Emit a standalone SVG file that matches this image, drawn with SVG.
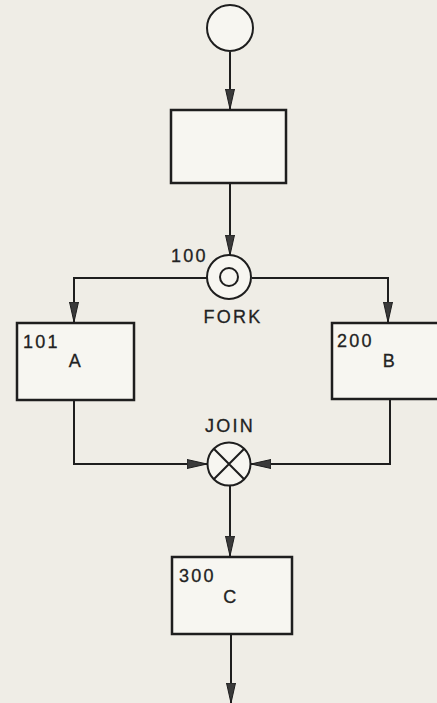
<svg xmlns="http://www.w3.org/2000/svg" width="437" height="703" viewBox="0 0 437 703">
<style>
.bg{fill:#efede6}
.ln{fill:none;stroke:#1e1e1e;stroke-width:2}
.bx{fill:#f7f6f1;stroke:#1e1e1e;stroke-width:2.5}
.t{font-family:"Liberation Sans","DejaVu Sans",sans-serif;font-size:18px;letter-spacing:2.3px;fill:#222;stroke:#222;stroke-width:0.3}
</style>
<defs>
<marker id="ah" markerWidth="22" markerHeight="12" refX="20" refY="6" orient="auto" markerUnits="userSpaceOnUse">
<path d="M0,1.5 L20,6 L0,10.5 Z" fill="#3a3a3a" stroke="#1e1e1e" stroke-width="1"/>
</marker>
</defs>
<rect class="bg" x="0" y="0" width="437" height="703"/>
<g id="connectors">
<path class="ln" d="M230,52 V109" marker-end="url(#ah)"/>
<path class="ln" d="M230,183 V255" marker-end="url(#ah)"/>
<path class="ln" d="M207,278 H74 V322" marker-end="url(#ah)"/>
<path class="ln" d="M252,278 H388 V322" marker-end="url(#ah)"/>
<path class="ln" d="M74,400 V464 H207" marker-end="url(#ah)"/>
<path class="ln" d="M390,400 V464 H251" marker-end="url(#ah)"/>
<path class="ln" d="M230,486 V556" marker-end="url(#ah)"/>
<path class="ln" d="M231,634 V703" marker-end="url(#ah)"/>
</g>
<g id="start">
<circle cx="230" cy="28" r="23" fill="#f7f6f1" stroke="#1e1e1e" stroke-width="2"/>
</g>
<g id="box0">
<rect class="bx" x="171" y="110" width="115" height="73"/>
</g>
<g id="fork">
<circle cx="229" cy="277" r="22" fill="#f7f6f1" stroke="#1e1e1e" stroke-width="2"/>
<circle cx="229" cy="277" r="9" fill="none" stroke="#1e1e1e" stroke-width="2"/>
<text class="t" x="171" y="262">100</text>
<text class="t" x="233" y="323" text-anchor="middle">FORK</text>
</g>
<g id="A">
<rect class="bx" x="17" y="323" width="117" height="77"/>
<text class="t" x="23" y="348">101</text>
<text class="t" x="76" y="367" text-anchor="middle">A</text>
</g>
<g id="B">
<rect class="bx" x="332" y="323" width="110" height="76"/>
<text class="t" x="337" y="347">200</text>
<text class="t" x="390" y="367" text-anchor="middle">B</text>
</g>
<g id="join">
<circle cx="229" cy="464" r="21.5" fill="#f7f6f1" stroke="#1e1e1e" stroke-width="2"/>
<path class="ln" d="M213.8,448.8 L244.2,479.2 M244.2,448.8 L213.8,479.2"/>
<text class="t" x="230" y="432" text-anchor="middle">JOIN</text>
</g>
<g id="C">
<rect class="bx" x="172" y="557" width="120" height="77"/>
<text class="t" x="179" y="582">300</text>
<text class="t" x="231" y="603" text-anchor="middle">C</text>
</g>
</svg>
